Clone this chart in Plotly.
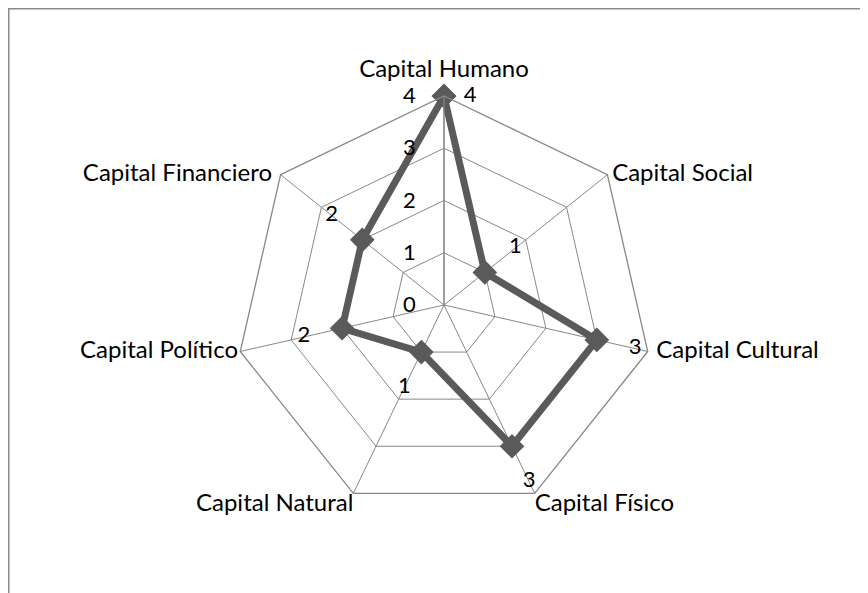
import plotly.graph_objects as go

categories = ["Capital Humano", "Capital Social", "Capital Cultural", "Capital Físico",
              "Capital Natural", "Capital Político", "Capital Financiero"]
values = [4, 1, 3, 3, 1, 2, 2]
tick_vals = [0, 1, 2, 3, 4]
tick_text = ["0", "1", "2", "3", "4"]

W, H = 868, 593
PAGE_OFF = 8  # body margin of the page
cx, cy, R = 444 - PAGE_OFF, 305 - PAGE_OFF, 209  # pixel centre / radius of the plot area
R_MAX = 4

line_color = "#5a5a5a"
grid_color = "#888888"
font_family = "Lato, Calibri, sans-serif"

# value-label placement (radial offset in data units, text position, padding size)
label_r_offset = [0, 0.75, 0.75, 0.75, 0.75, 0.75, 0.75]
label_pos = ["middle right"] + ["middle center"] * 6
label_pad = [30, 1, 1, 1, 1, 1, 1]

# category-label placement around the outer ring
cat_pos = ["top center", "middle right", "middle right", "bottom right",
           "bottom left", "middle left", "middle left"]
cat_pad = [20, 6, 12, 0, 0, 2, 12]

fig = go.Figure()
fig.add_trace(go.Scatterpolar(
    r=values + values[:1], theta=categories + categories[:1],
    mode="lines+markers",
    line=dict(color=line_color, width=7),
    marker=dict(symbol="diamond", size=19, color=line_color),
    hoverinfo="skip", showlegend=False,
))
fig.add_trace(go.Scatterpolar(
    r=[v + o for v, o in zip(values, label_r_offset)], theta=categories,
    mode="markers+text", text=[str(v) for v in values], textposition=label_pos,
    marker=dict(size=label_pad, opacity=0),
    textfont=dict(family=font_family, size=22, color="#000000"),
    cliponaxis=False, hoverinfo="skip", showlegend=False,
))
fig.add_trace(go.Scatterpolar(
    r=[R_MAX] * len(categories), theta=categories,
    mode="markers+text", text=categories, textposition=cat_pos,
    marker=dict(size=cat_pad, opacity=0),
    textfont=dict(family=font_family, size=24, color="#000000"),
    cliponaxis=False, hoverinfo="skip", showlegend=False,
))

fig.update_layout(
    width=W, height=H,
    margin=dict(l=0, r=0, t=0, b=0),
    paper_bgcolor="white", plot_bgcolor="white",
    polar=dict(
        domain=dict(x=[(cx - R) / W, (cx + R) / W],
                    y=[(H - cy - R) / H, (H - cy + R) / H]),
        bgcolor="white",
        gridshape="linear",
        angularaxis=dict(
            direction="clockwise", rotation=90,
            categoryorder="array", categoryarray=categories,
            showline=True, linecolor=grid_color, linewidth=1.3,
            showgrid=True, gridcolor=grid_color, gridwidth=1.3,
            ticks="", showticklabels=False,
        ),
        radialaxis=dict(
            range=[0, R_MAX], tickvals=tick_vals, ticktext=tick_text,
            angle=90, tickangle=90, side="counterclockwise",
            showline=True, linecolor=grid_color, linewidth=1.3,
            showgrid=True, gridcolor=grid_color, gridwidth=1.3,
            ticks="outside", ticklen=20, tickcolor="rgba(0,0,0,0)",
            tickfont=dict(family=font_family, size=22, color="#000000"),
        ),
    ),
    shapes=[
        dict(type="line", xref="paper", yref="paper", x0=0, x1=1.0,
             y0=1 - 0.5 / H, y1=1 - 0.5 / H, line=dict(color="#8a8a8a", width=2)),
        dict(type="line", xref="paper", yref="paper", x0=0.5 / W, x1=0.5 / W,
             y0=0, y1=1, line=dict(color="#8a8a8a", width=2)),
    ],
)

fig.write_html("out.html")
